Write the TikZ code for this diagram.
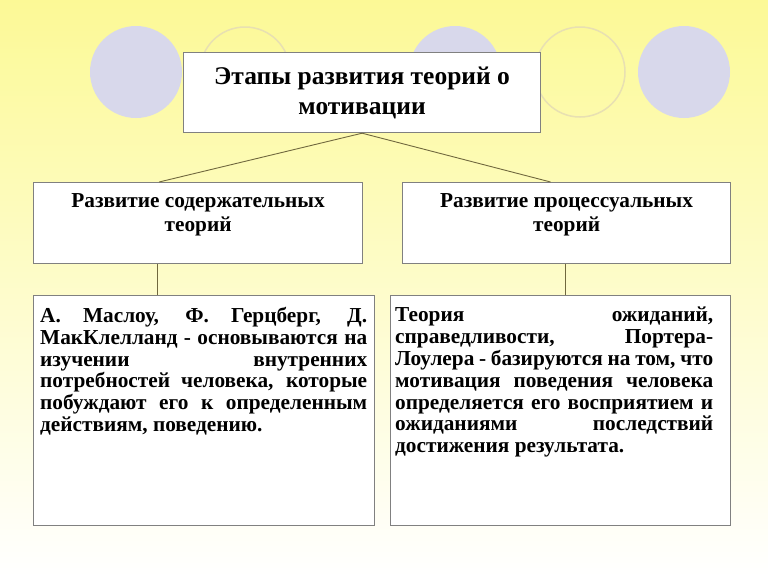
\documentclass[tikz,border=0pt]{standalone}
\usepackage{fontspec}
\setmainfont{Liberation Serif}
\usetikzlibrary{positioning}
\definecolor{bgtop}{RGB}{252,249,150}
\definecolor{bgmid}{RGB}{255,253,200}
\definecolor{lilac}{RGB}{216,216,235}
\definecolor{ringcol}{RGB}{232,224,178}
\definecolor{framecol}{RGB}{128,128,128}
\definecolor{linkcol}{RGB}{112,104,62}
\begin{document}
\begin{tikzpicture}[
  x=1pt, y=-1pt,
  box/.style={draw=framecol, line width=1.2pt, fill=white, inner sep=0pt, anchor=north west},
  dot/.style={fill=lilac},
  ring/.style={draw=ringcol, line width=1.5pt},
  link/.style={draw=linkcol, line width=0.9pt},
  head/.style={align=center, inner sep=0pt, font=\bfseries\fontsize{21.3}{24}\selectfont},
  body/.style={align=justify, inner sep=0pt, anchor=north west, font=\bfseries\fontsize{21.3}{21.8}\selectfont}
]
  % background
  \useasboundingbox (0,0) rectangle (768,576);
  \fill[top color=bgtop, middle color=bgmid, bottom color=white] (0,0) rectangle (768,576);

  % circles behind the title
  \fill[dot] (136,72) circle (46);
  \draw[ring] (245,72) circle (45);
  \fill[dot] (455,72) circle (46);
  \draw[ring] (580,72) circle (45);
  \fill[dot] (684,72) circle (46);

  % title
  \node[box, minimum width=357pt, minimum height=80pt, font=\bfseries\fontsize{25.5}{30}\selectfont, align=center]
    (title) at (183,52) {Этапы развития теорий о\\мотивации};

  % second level
  \node[box, minimum width=329pt, minimum height=81pt] (left2) at (33,182) {};
  \node[box, minimum width=328pt, minimum height=81pt] (right2) at (402,182) {};
  \node[head, below=11pt of left2.north] (left2text) {Развитие содержательных\\теорий};
  \node[head, below=11pt of right2.north] (right2text) {Развитие процессуальных\\теорий};

  % third level
  \node[box, minimum width=341pt, minimum height=230pt] (left3) at (33,295) {};
  \node[box, minimum width=340pt, minimum height=230pt] (right3) at (390,295) {};
  \node[body, text width=327pt] (left3text) at (40,307)
    {А. Маслоу, Ф. Герцберг, Д.\linebreak
     МакКлелланд - основываются на\linebreak
     изучении внутренних\linebreak
     потребностей человека, которые\linebreak
     побуждают его к определенным\linebreak
     действиям, поведению.};
  \node[body, text width=318pt] (right3text) at (395,307)
    {Теория ожиданий,\linebreak
     справедливости, Портера-\linebreak
     Лоулера - базируются на том, что\linebreak
     мотивация поведения человека\linebreak
     определяется его восприятием и\linebreak
     ожиданиями последствий\linebreak
     достижения результата.};

  % connectors
  \draw[link] (title.south) -- ([xshift=-39pt]left2.north);
  \draw[link] (title.south) -- ([xshift=-16pt]right2.north);
  \draw[link] ([xshift=-41pt]left2.south) -- ([xshift=-41pt]left2.south |- left3.north);
  \draw[link] ([xshift=-1pt]right2.south) -- ([xshift=-1pt]right2.south |- right3.north);
\end{tikzpicture}
\end{document}
